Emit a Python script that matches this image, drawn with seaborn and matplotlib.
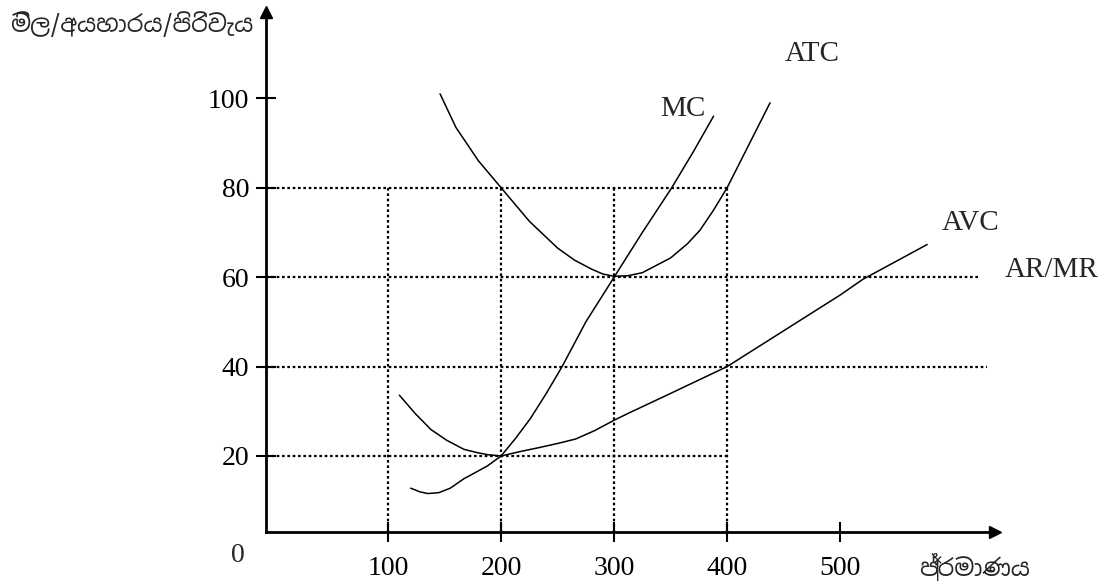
import numpy as np
import pandas as pd
import seaborn as sns
import matplotlib.pyplot as plt

# valores
q_mc = [120, 128, 135, 145, 155, 167, 178, 188, 200, 213, 226, 240, 254, 275, 300, 325, 351, 370, 388]
mc = [12.8, 12.0, 11.6, 11.8, 12.8, 14.9, 16.4, 17.8, 20.0, 24.0, 28.4, 34.0, 40.0, 50.0, 60.0, 70.0, 80.0, 88.0, 96.0]

q_atc = [146, 160, 180, 200, 225, 250, 265, 280, 290, 300, 312, 325, 350, 365, 376, 388, 400, 418, 438]
atc = [101, 93.5, 86, 80, 72.5, 66.5, 63.8, 61.8, 60.7, 60.2, 60.3, 61, 64.3, 67.5, 70.5, 75, 80, 89, 99]

q_avc = [110, 124, 138, 152, 167, 178, 188, 200, 217, 234, 250, 266, 283, 300, 313, 350, 400, 450, 500, 520, 577]
avc = [33.6, 29.5, 25.9, 23.5, 21.5, 20.8, 20.3, 20.0, 21.0, 21.9, 22.8, 23.8, 25.7, 28.0, 29.6, 34.0, 40.0, 48.0, 56.0, 59.5, 67.3]

precio = 60          # AR/MR
q_ar_fin = 624
y_ticks = [20, 40, 60, 80, 100]
x_ticks = [100, 200, 300, 400, 500]

etiquetas = {"MC": (361, 97.5), "ATC": (475, 110), "AVC": (615, 72), "AR/MR": (646, 61.5)}

sns.set_theme(style="white")
plt.rcParams['font.family'] = ['Liberation Serif', 'Noto Sans', 'DejaVu Sans']
plt.rcParams['axes.unicode_minus'] = False

fig = plt.figure(figsize=(11.08, 5.85), dpi=100)
ax = fig.add_axes([266 / 1108, 53 / 585, 729 / 1108, 520 / 585])

curvas = pd.concat([
    pd.DataFrame({"q": q_mc, "v": mc, "curva": "MC"}),
    pd.DataFrame({"q": q_atc, "v": atc, "curva": "ATC"}),
    pd.DataFrame({"q": q_avc, "v": avc, "curva": "AVC"}),
])
sns.lineplot(data=curvas, x="q", y="v", units="curva", estimator=None, sort=False,
             color="black", linewidth=1.1, ax=ax, legend=False)

# lineas punteadas
punt = dict(color="black", linestyle=(0, (1.2, 1.2)), linewidth=1.6)
ax.plot([-8, 400], [80, 80], **punt)
ax.plot([-8, 400], [20, 20], **punt)
ax.plot([-8, 630], [40, 40], **punt)
ax.plot([-8, q_ar_fin], [precio, precio], **punt)
for xv in [100, 200, 300, 400]:
    ax.plot([xv, xv], [3, 80], **punt)

for txt, (xx, yy) in etiquetas.items():
    ax.text(xx, yy, txt, fontsize=21, ha="center" if txt != "AR/MR" else "left", va="center")

ax.set_xlim(-8, 637)
ax.set_ylim(3, 119.3)
ax.set_xticks(x_ticks)
ax.set_yticks(y_ticks)
ax.tick_params(axis="both", direction="inout", length=14, width=1.5, labelsize=20,
               colors="black", bottom=True, left=True)
ax.tick_params(axis="x", pad=10)
ax.tick_params(axis="y", pad=5)
for s in ["top", "right"]:
    ax.spines[s].set_visible(False)
for s in ["left", "bottom"]:
    ax.spines[s].set_linewidth(2)
    ax.spines[s].set_color("black")
ax.set_xlabel("")
ax.set_ylabel("")

# flechas de los ejes
ax.plot(1, 0, ">", color="black", markersize=9, transform=ax.transAxes, clip_on=False)
ax.plot(0, 1, "^", color="black", markersize=9, transform=ax.transAxes, clip_on=False)

fig.text(238 / 1108, 1 - 556 / 585, "0", fontsize=20, ha="center", va="center")
fig.text(10 / 1108, 1 - 25 / 585, "මිල/අයහාරය/පිරිවැය", fontsize=17, ha="left", va="center",
         family=['Noto Sans Sinhala', 'Noto Sans', 'DejaVu Sans'])
fig.text(975 / 1108, 1 - 568 / 585, "ප්‍රමාණය", fontsize=17, ha="center", va="center",
         family=['Noto Sans Sinhala', 'Noto Sans', 'DejaVu Sans'])

plt.savefig("out.png", dpi=100)
plt.close()
